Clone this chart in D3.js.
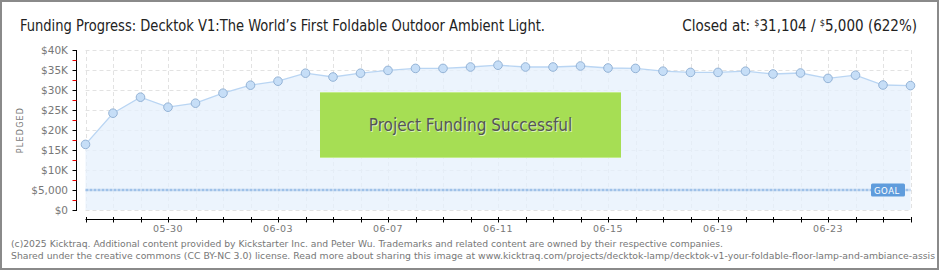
<!DOCTYPE html>
<html>
<head>
<meta charset="utf-8">
<script src="https://cdn.jsdelivr.net/npm/d3@7"></script>
<style>
  html, body { margin: 0; padding: 0; background: #fff; }
  svg { display: block; }
</style>
</head>
<body>
<div id="chart"></div>
<script>
// Kicktraq-style funding progress chart

const dates = ['05-27', '05-28', '05-29', '05-30', '05-31', '06-01', '06-02', '06-03', '06-04', '06-05',
  '06-06', '06-07', '06-08', '06-09', '06-10', '06-11', '06-12', '06-13', '06-14', '06-15',
  '06-16', '06-17', '06-18', '06-19', '06-20', '06-21', '06-22', '06-23', '06-24', '06-25', '06-26'];
const pledged = [16400, 24200, 28200, 25700, 26700, 29200, 31200, 32200, 34200, 33250,
  34200, 34900, 35400, 35400, 35750, 36200, 35750, 35750, 36000, 35500,
  35400, 34700, 34400, 34400, 34700, 34000, 34250, 32900, 33700, 31250, 31104];
const xTickLabels = ['05-30', '06-03', '06-07', '06-11', '06-15', '06-19', '06-23'];
const yTicks = [0, 5000, 10000, 15000, 20000, 25000, 30000, 35000, 40000];
const yTickLabels = ['$0', '$5,000', '$10K', '$15K', '$20K', '$25K', '$30K', '$35K', '$40K'];
const goal = 5000;

const W = 940, H = 270;
const svg = d3.select('#chart').append('svg').attr('width', W).attr('height', H);

const x = d3.scalePoint().domain(dates).range([85.5, 910.5]);
const y = d3.scaleLinear().domain([0, 40000]).range([210, 50]);

const narrow = '"DejaVu Sans Condensed", "DejaVu Sans", sans-serif';

// frame
svg.append('rect').attr('x', 1).attr('y', 1).attr('width', W - 3).attr('height', H - 2)
  .attr('fill', 'none').attr('stroke', '#8a8a8a').attr('stroke-width', 2);

// title
svg.append('text').attr('x', 20).attr('y', 31)
  .attr('font-family', narrow).attr('font-size', 15).attr('fill', '#222')
  .attr('textLength', 525).attr('lengthAdjust', 'spacingAndGlyphs')
  .text('Funding Progress: Decktok V1:The World\u2019s First Foldable Outdoor Ambient Light.');

const closed = svg.append('text').attr('x', 917).attr('y', 31).attr('text-anchor', 'end')
  .attr('font-family', narrow).attr('font-size', 15).attr('fill', '#222');
closed.append('tspan').text('Closed at: ');
closed.append('tspan').attr('font-size', 9).attr('dy', -5).text('$');
closed.append('tspan').attr('dy', 5).text('31,104 / ');
closed.append('tspan').attr('font-size', 9).attr('dy', -5).text('$');
closed.append('tspan').attr('dy', 5).text('5,000 (622%)');

// grid
const g = svg.append('g');
g.selectAll('.hgrid').data(yTicks).enter().append('line')
  .attr('x1', x.range()[0]).attr('x2', x.range()[1])
  .attr('y1', d => y(d) + 0.5).attr('y2', d => y(d) + 0.5)
  .attr('stroke', '#e2e2e2').attr('stroke-dasharray', '4,3');
g.selectAll('.vgrid').data(dates).enter().append('line')
  .attr('x1', d => Math.round(x(d)) + 0.5).attr('x2', d => Math.round(x(d)) + 0.5)
  .attr('y1', y(40000)).attr('y2', y(0))
  .attr('stroke', '#e2e2e2').attr('stroke-dasharray', '4,3');

// area + line
const pts = dates.map((d, i) => ({ d, v: pledged[i] }));
g.append('path').datum(pts)
  .attr('d', d3.area().x(p => x(p.d)).y0(y(0)).y1(p => y(p.v)))
  .attr('fill', '#e6f0fc').attr('opacity', 0.75);
g.append('path').datum(pts)
  .attr('d', d3.line().x(p => x(p.d)).y(p => y(p.v)))
  .attr('fill', 'none').attr('stroke', '#b9d5f3').attr('stroke-width', 1.3);

// goal line
g.append('line').attr('x1', x.range()[0]).attr('x2', x.range()[1])
  .attr('y1', y(goal)).attr('y2', y(goal))
  .attr('stroke', '#9fc1e8').attr('stroke-width', 2.5).attr('stroke-dasharray', '3,1');

// points
g.selectAll('.pt').data(pts).enter().append('circle')
  .attr('cx', p => x(p.d)).attr('cy', p => y(p.v)).attr('r', 4.3)
  .attr('fill', '#c6def7').attr('stroke', '#94b3d6').attr('stroke-width', 1);

// goal badge
const gx = 871, gy = y(goal);
g.append('rect').attr('x', gx).attr('y', gy - 6.5).attr('width', 34).attr('height', 13)
  .attr('rx', 1.5).attr('fill', '#5f9cdc');
g.append('text').attr('x', gx + 3).attr('y', gy + 3.5)
  .attr('font-family', '"DejaVu Sans", sans-serif').attr('font-size', 8.5).attr('fill', '#fff')
  .attr('letter-spacing', 0.5).text('GOAL');

// success banner
const bx = 320, by = 92, bw = 301, bh = 66;
g.append('rect').attr('x', bx).attr('y', by).attr('width', bw).attr('height', bh).attr('fill', '#a6de54');
g.append('line').attr('x1', bx).attr('x2', bx + bw).attr('y1', by + 0.5).attr('y2', by + 0.5).attr('stroke', '#c3ec8a');
g.append('line').attr('x1', bx).attr('x2', bx + bw).attr('y1', by + bh - 0.5).attr('y2', by + bh - 0.5).attr('stroke', '#c3ec8a');
g.append('text').attr('x', bx + bw / 2 + 1).attr('y', by + bh / 2 + 7)
  .attr('text-anchor', 'middle').attr('font-family', narrow).attr('font-size', 17)
  .attr('fill', '#fff').attr('opacity', 0.6).text('Project Funding Successful');
g.append('text').attr('x', bx + bw / 2).attr('y', by + bh / 2 + 6)
  .attr('text-anchor', 'middle').attr('font-family', narrow).attr('font-size', 17)
  .attr('fill', '#555').text('Project Funding Successful');

// y axis
const yAxisX = 76.5;
const yAxis = svg.append('g');
yAxis.append('line').attr('x1', yAxisX).attr('x2', yAxisX).attr('y1', y(40000)).attr('y2', y(0) + 1)
  .attr('stroke', '#000');
yAxis.selectAll('.maj').data(yTicks).enter().append('line')
  .attr('x1', yAxisX - 4).attr('x2', yAxisX).attr('y1', d => y(d) + 0.5).attr('y2', d => y(d) + 0.5)
  .attr('stroke', '#000');
yAxis.selectAll('.min').data(yTicks.slice(0, -1)).enter().append('line')
  .attr('x1', yAxisX - 4).attr('x2', yAxisX).attr('y1', d => y(d + 2500) + 0.5).attr('y2', d => y(d + 2500) + 0.5)
  .attr('stroke', '#e00');
yAxis.selectAll('.lbl').data(yTicks).enter().append('text')
  .attr('x', 68).attr('y', d => y(d) + 4).attr('text-anchor', 'end')
  .attr('font-family', '"DejaVu Sans", sans-serif').attr('font-size', 10.5).attr('fill', '#777')
  .text((d, i) => yTickLabels[i]);
svg.append('text').attr('transform', `translate(23,${y(20000)}) rotate(-90)`)
  .attr('text-anchor', 'middle').attr('font-family', '"DejaVu Sans", sans-serif')
  .attr('font-size', 8).attr('letter-spacing', 1.2).attr('fill', '#777').text('PLEDGED');

// x axis
const xAxisY = 219.5;
const xAxis = svg.append('g');
xAxis.append('line').attr('x1', x.range()[0]).attr('x2', x.range()[1]).attr('y1', xAxisY).attr('y2', xAxisY)
  .attr('stroke', '#000');
xAxis.selectAll('.tk').data(dates).enter().append('line')
  .attr('x1', d => Math.round(x(d)) + 0.5).attr('x2', d => Math.round(x(d)) + 0.5)
  .attr('y1', xAxisY - 2.5).attr('y2', xAxisY + 3)
  .attr('stroke', '#000');
xAxis.selectAll('.xl').data(xTickLabels).enter().append('text')
  .attr('x', d => x(d)).attr('y', 232).attr('text-anchor', 'middle')
  .attr('font-family', '"DejaVu Sans", sans-serif').attr('font-size', 9.5).attr('fill', '#777')
  .attr('letter-spacing', 0.5).text(d => d);

// footer (second line is clipped by the frame in the original)
const foot = [
  { t: '(c)2025 Kicktraq. Additional content provided by Kickstarter Inc. and Peter Wu. Trademarks and related content are owned by their respective companies.', len: 712 },
  { t: 'Shared under the creative commons (CC BY-NC 3.0) license. Read more about sharing this image at www.kicktraq.com/projects/decktok-lamp/decktok-v1-your-foldable-floor-lamp-and-ambiance-assis', len: 924 }
];
svg.append('g').selectAll('text').data(foot).enter().append('text')
  .attr('x', 11).attr('y', (d, i) => 247 + i * 11.5)
  .attr('font-family', '"DejaVu Sans", sans-serif').attr('font-size', 9.3).attr('fill', '#777')
  .attr('textLength', d => d.len).attr('lengthAdjust', 'spacingAndGlyphs')
  .text(d => d.t);
</script>
</body>
</html>
